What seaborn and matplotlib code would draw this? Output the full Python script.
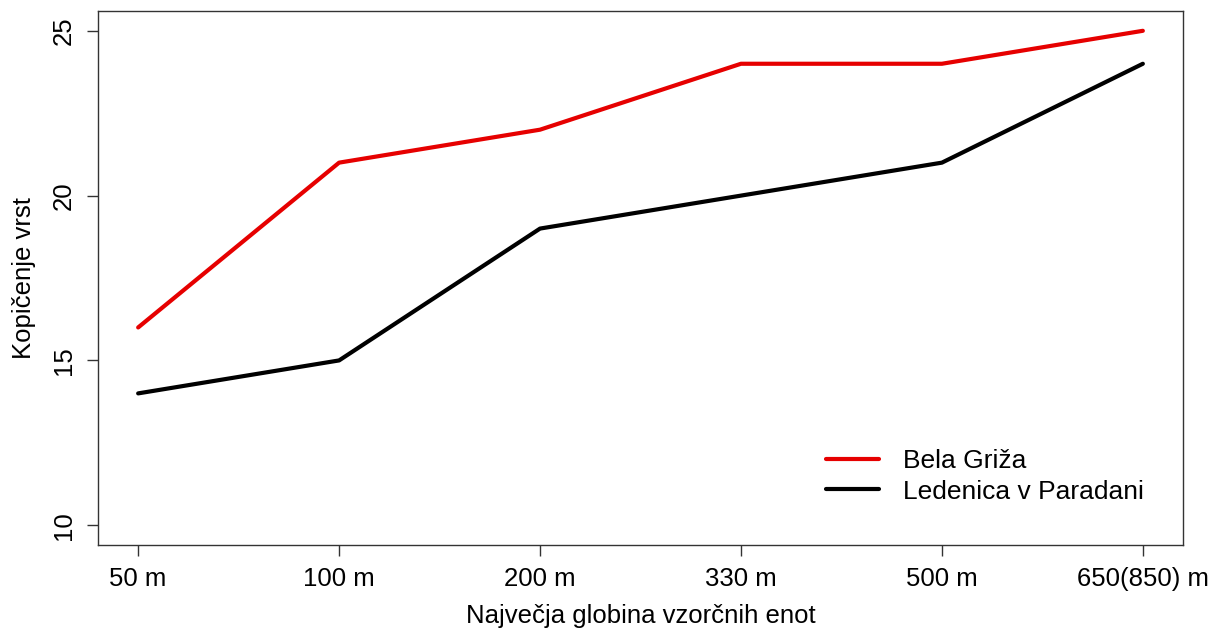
import matplotlib
matplotlib.use("Agg")
import matplotlib.pyplot as plt
import seaborn as sns
import pandas as pd

depths = ["50 m", "100 m", "200 m", "330 m", "500 m", "650(850) m"]
bela_griza = [16, 21, 22, 24, 24, 25]
ledenica = [14, 15, 19, 20, 21, 24]
series_names = ["Bela Griža", "Ledenica v Paradani"]
y_ticks = [10, 15, 20, 25]

pos = list(range(1, len(depths) + 1))
df = pd.DataFrame({
    "pos": pos * 2,
    "vrste": bela_griza + ledenica,
    "lokacija": [series_names[0]] * len(pos) + [series_names[1]] * len(pos),
})

sns.set_style("ticks")
plt.rcParams["font.family"] = ["Liberation Sans", "DejaVu Sans"]
plt.rcParams["text.color"] = "black"
plt.rcParams["axes.labelcolor"] = "black"
plt.rcParams["xtick.color"] = "black"
plt.rcParams["ytick.color"] = "black"

FS = 18.5

fig = plt.figure(figsize=(12.2, 6.37), dpi=100)
ax = fig.add_axes([0.0803, 0.1444, 0.8894, 0.8383])

sns.lineplot(data=df, x="pos", y="vrste", hue="lokacija",
             palette={series_names[0]: "#e60000", series_names[1]: "black"},
             linewidth=3, ax=ax, legend=True)

ax.set_xlim(0.8, 6.2)
ax.set_ylim(9.4, 25.6)
ax.set_xticks(pos)
ax.set_xticklabels(depths, fontsize=FS)
ax.set_yticks(y_ticks)
ax.set_yticklabels([str(t) for t in y_ticks], fontsize=FS, rotation=90, va="center")
ax.tick_params(axis="both", direction="out", length=8, width=1, color="#333333", pad=8)
for s in ax.spines.values():
    s.set_visible(True)
    s.set_color("#333333")
    s.set_linewidth(1)

ax.set_xlabel("Največja globina vzorčnih enot", fontsize=FS, labelpad=9)
ax.set_ylabel("Kopičenje vrst", fontsize=FS, labelpad=11)

leg = ax.legend(loc="lower right", bbox_to_anchor=(0.976, 0.053), frameon=False,
                borderpad=0, fontsize=19, handlelength=2.0, handletextpad=0.9,
                labelspacing=0.25)
for line in leg.get_lines():
    line.set_linewidth(3)

fig.savefig("out.png", dpi=100)
